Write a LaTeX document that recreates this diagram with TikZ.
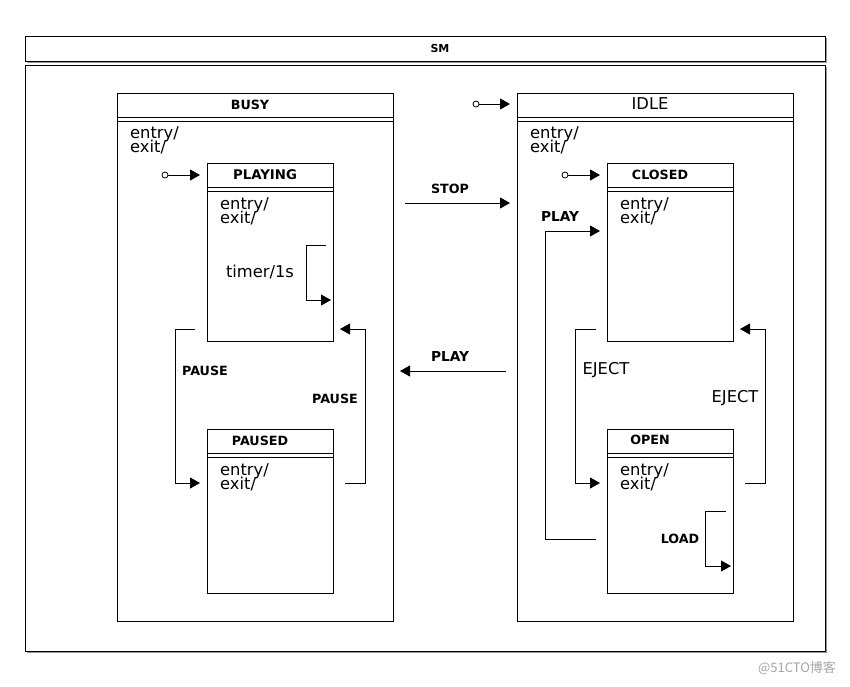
\documentclass[tikz,border=0pt]{standalone}
\usepackage{fontspec}
\setmainfont{DejaVu Sans}
\newfontfamily\cjk{Noto Sans CJK SC}
\usetikzlibrary{arrows.meta}
\newcommand\mytightlines{\lineskiplimit=-20pt\relax\lineskip=0pt\relax}
\tikzset{
  box/.style={draw, line width=1pt, inner sep=0pt, anchor=north west, fill=white},
  shadowbox/.style={fill=black!40, draw=none, inner sep=0pt, anchor=north west},
  lbl/.style={font=\bfseries\fontsize{12.7}{14}\selectfont, inner sep=0pt},
  plbl/.style={font=\bfseries\fontsize{13.7}{14}\selectfont, inner sep=0pt},
  reg/.style={font=\fontsize{16.3}{16}\selectfont, inner sep=0pt},
  act/.style={font=\fontsize{16.3}{14}\selectfont\mytightlines, inner sep=0pt, anchor=north west, align=left},
  tr/.style={line width=1pt, -{Triangle[length=10pt,width=11pt]}},
  seg/.style={line width=1pt},
  initdot/.style={circle, draw, minimum size=6pt, inner sep=0pt, line width=0.8pt}
}
\begin{document}
\begin{tikzpicture}[x=1pt,y=-1pt]
\useasboundingbox[fill=white] (0,0) rectangle (850,686);
% SM frame with shadows
\node[shadowbox, minimum width=800pt, minimum height=25pt] at (27,38) {};
\node[box, minimum width=800pt, minimum height=25pt] (smhead) at (25,36) {};
\node[font=\bfseries\fontsize{11}{12}\selectfont, inner sep=0pt] (smlbl) at (440,48) {SM};
\node[shadowbox, minimum width=800pt, minimum height=586pt] at (27,67) {};
\node[box, minimum width=800pt, minimum height=586pt] (main) at (25,65) {};

% BUSY
\node[box, minimum width=276pt, minimum height=528pt] (busy) at (117,93) {};
\draw[seg] ([yshift=-24pt]busy.north west) -- ([yshift=-24pt]busy.north east);
\draw[seg] ([yshift=-28pt]busy.north west) -- ([yshift=-28pt]busy.north east);
\node[lbl] (busylbl) at (250,105) {BUSY};
\node[act] (busyact) at (130,126) {entry/\\exit/};

% PLAYING
\node[box, minimum width=126pt, minimum height=178pt] (playing) at (207,163) {};
\draw[seg] ([yshift=-24pt]playing.north west) -- ([yshift=-24pt]playing.north east);
\draw[seg] ([yshift=-28pt]playing.north west) -- ([yshift=-28pt]playing.north east);
\node[lbl, font=\bfseries\fontsize{13.3}{14}\selectfont] (playinglbl) at (265,175) {PLAYING};
\node[act] (playact) at (220,197) {entry/\\exit/};

% PAUSED
\node[box, minimum width=126pt, minimum height=164pt] (paused) at (207,429) {};
\draw[seg] ([yshift=-24pt]paused.north west) -- ([yshift=-24pt]paused.north east);
\draw[seg] ([yshift=-28pt]paused.north west) -- ([yshift=-28pt]paused.north east);
\node[lbl] (pausedlbl) at (260,441) {PAUSED};
\node[act] (pausedact) at (220,463) {entry/\\exit/};

% IDLE
\node[box, minimum width=276pt, minimum height=528pt] (idle) at (517,93) {};
\draw[seg] ([yshift=-24pt]idle.north west) -- ([yshift=-24pt]idle.north east);
\draw[seg] ([yshift=-28pt]idle.north west) -- ([yshift=-28pt]idle.north east);
\node[reg] (idlelbl) at (650,104) {IDLE};
\node[act] (idleact) at (530,126) {entry/\\exit/};

% CLOSED
\node[box, minimum width=126pt, minimum height=178pt] (closed) at (607,163) {};
\draw[seg] ([yshift=-24pt]closed.north west) -- ([yshift=-24pt]closed.north east);
\draw[seg] ([yshift=-28pt]closed.north west) -- ([yshift=-28pt]closed.north east);
\node[lbl] (closedlbl) at (660,175) {CLOSED};
\node[act] (closedact) at (620,197) {entry/\\exit/};

% OPEN
\node[box, minimum width=126pt, minimum height=164pt] (open) at (607,429) {};
\draw[seg] ([yshift=-24pt]open.north west) -- ([yshift=-24pt]open.north east);
\draw[seg] ([yshift=-28pt]open.north west) -- ([yshift=-28pt]open.north east);
\node[lbl] (openlbl) at (650,440) {OPEN};
\node[act] (openact) at (620,463) {entry/\\exit/};

% initial pseudo-states
\node[initdot] (ibusy) at (165,175) {};
\coordinate (ibusyT) at (200,175);
\draw[tr] (ibusy) -- (ibusyT);
\node[initdot] (iidle) at (476,104) {};
\coordinate (iidleT) at (510,104);
\draw[tr] (iidle) -- (iidleT);
\node[initdot] (iclosed) at (565,175) {};
\coordinate (iclosedT) at (600,175);
\draw[tr] (iclosed) -- (iclosedT);

% timer self loop
\coordinate (tmA) at (326,245);
\coordinate (tmB) at (331,300);
\draw[tr] (tmA) -- (306,245) -- (306,300) -- (tmB);
\node[reg] (tmlbl) at (260,272) {timer/1s};

% PAUSE left (PLAYING -> PAUSED)
\coordinate (plA) at (195,329);
\coordinate (plB) at (200,483);
\draw[tr] (plA) -- (175,329) -- (175,483) -- (plB);
\node[lbl] (pl1) at (205,371) {PAUSE};

% PAUSE right (PAUSED -> PLAYING)
\coordinate (prA) at (345,483);
\coordinate (prB) at (340,329);
\draw[tr] (prA) -- (365,483) -- (365,329) -- (prB);
\node[lbl] (pl2) at (335,399) {PAUSE};

% STOP
\coordinate (stA) at (405,203);
\coordinate (stB) at (510,203);
\draw[tr] (stA) -- (stB);
\node[lbl] (stlbl) at (450,189) {STOP};

% PLAY (IDLE -> BUSY)
\coordinate (pyA) at (506,371);
\coordinate (pyB) at (400,371);
\draw[tr] (pyA) -- (pyB);
\node[plbl] (pylbl) at (450,356) {PLAY};

% PLAY loop (OPEN -> CLOSED)
\coordinate (ocA) at (596,539);
\coordinate (ocB) at (600,231);
\draw[tr] (ocA) -- (545,539) -- (545,231) -- (ocB);
\node[plbl] (oclbl) at (560,216) {PLAY};

% EJECT left (CLOSED -> OPEN)
\coordinate (ejA) at (596,329);
\coordinate (ejB) at (600,483);
\draw[tr] (ejA) -- (575,329) -- (575,483) -- (ejB);
\node[reg] (ej1) at (606,370) {EJECT};

% EJECT right (OPEN -> CLOSED)
\coordinate (erA) at (745,483);
\coordinate (erB) at (740,329);
\draw[tr] (erA) -- (765,483) -- (765,329) -- (erB);
\node[reg] (ej2) at (735,398) {EJECT};

% LOAD self loop
\coordinate (ldA) at (726,511);
\coordinate (ldB) at (731,566);
\draw[tr] (ldA) -- (705,511) -- (705,566) -- (ldB);
\node[lbl] (ldlbl) at (680,539) {LOAD};

% watermark
\node[font=\cjk\fontsize{13}{14}\selectfont, text=black!35, inner sep=0pt] (wm) at (797,668) {@51CTO博客};
\end{tikzpicture}
\end{document}
